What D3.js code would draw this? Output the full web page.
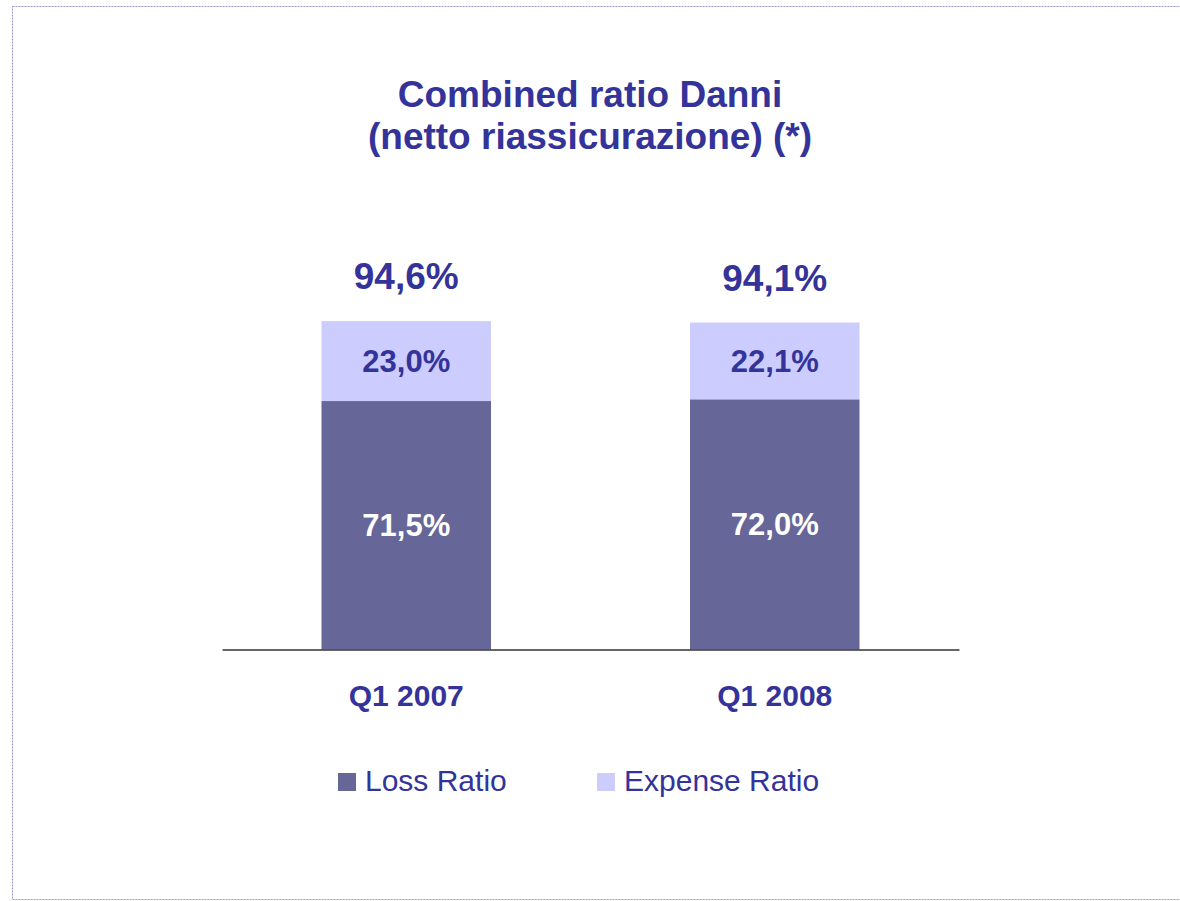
<!DOCTYPE html>
<html>
<head>
<meta charset="utf-8">
<script src="https://cdn.jsdelivr.net/npm/d3@7"></script>
<style>
  html, body { margin: 0; padding: 0; background: #fff; }
  svg text { font-family: "Liberation Sans", Arial, sans-serif; }
</style>
</head>
<body>
<svg id="chart"></svg>
<script>
// chart data
var categories = ["Q1 2007", "Q1 2008"];
var lossRatio = [71.5, 72.0];
var expenseRatio = [23.0, 22.1];
var totalLabels = ["94,6%", "94,1%"];
var lossLabels = ["71,5%", "72,0%"];
var expenseLabels = ["23,0%", "22,1%"];
var seriesNames = ["Loss Ratio", "Expense Ratio"];

var W = 1180, H = 901;
var textColor = "#333399";
var colors = ["#666699", "#CCCCFF"];

var svg = d3.select("#chart")
    .attr("width", W)
    .attr("height", H);

// dashed page frame
svg.append("rect")
    .attr("x", 12.5)
    .attr("y", 6.5)
    .attr("width", 1200)
    .attr("height", 893)
    .attr("fill", "none")
    .attr("stroke", "#9999cc")
    .attr("stroke-width", 1)
    .attr("stroke-dasharray", "2,1");

//title
var title = svg.append("text")
    .attr("text-anchor", "middle")
    .attr("fill", textColor)
    .attr("font-weight", "bold")
    .attr("font-size", "37px");
title.append("tspan").attr("x", 590).attr("y", 107).text("Combined ratio Danni");
title.append("tspan").attr("x", 590).attr("y", 149).text("(netto riassicurazione) (*)");

//scales
var x = d3.scaleBand()
    .domain(categories)
    .range([222, 959])
    .paddingInner(0.54)
    .paddingOuter(0.27);

var y = d3.scaleLinear()
    .domain([0, 100])
    .range([649.5, 302]);

var rows = categories.map(function (c, i) {
    return { cat: c, loss: lossRatio[i], expense: expenseRatio[i] };
});
var stack = d3.stack().keys(["loss", "expense"])(rows);

var layers = svg.append("g")
    .selectAll("g")
    .data(stack)
    .enter().append("g")
    .attr("fill", function (d, i) { return colors[i]; });

layers.selectAll("rect")
    .data(function (d) { return d; })
    .enter().append("rect")
    .attr("x", function (d) { return x(d.data.cat); })
    .attr("y", function (d) { return y(d[1]); })
    .attr("width", x.bandwidth())
    .attr("height", function (d) { return y(d[0]) - y(d[1]); });

// segment labels
var segLabels = [lossLabels, expenseLabels];
var segColors = ["#ffffff", textColor];
stack.forEach(function (layer, k) {
    svg.append("g")
        .selectAll("text")
        .data(layer)
        .enter().append("text")
        .attr("x", function (d) { return x(d.data.cat) + x.bandwidth() / 2; })
        .attr("y", function (d) { return (y(d[0]) + y(d[1])) / 2 + 11; })
        .attr("text-anchor", "middle")
        .attr("font-weight", "bold")
        .attr("font-size", "31px")
        .attr("fill", segColors[k])
        .text(function (d, i) { return segLabels[k][i]; });
});

// totals over the bars
svg.append("g")
    .selectAll("text")
    .data(rows)
    .enter().append("text")
    .attr("x", function (d) { return x(d.cat) + x.bandwidth() / 2; })
    .attr("y", function (d) { return y(d.loss + d.expense) - 32; })
    .attr("text-anchor", "middle")
    .attr("font-weight", "bold")
    .attr("font-size", "37px")
    .attr("fill", textColor)
    .text(function (d, i) { return totalLabels[i]; });

// x axis
var axis = svg.append("g")
    .attr("transform", "translate(0," + y(0) + ")")
    .call(d3.axisBottom(x).tickSize(0).tickPadding(0));
axis.select(".domain")
    .attr("stroke", "#333333")
    .attr("stroke-width", 1.5);
axis.selectAll(".tick text")
    .attr("dy", 0)
    .attr("y", 56.5)
    .attr("font-family", "Liberation Sans, Arial, sans-serif")
    .attr("font-size", "30px")
    .attr("font-weight", "bold")
    .attr("fill", textColor);

// legend
var legendX = [338, 597];
var legend = svg.append("g")
    .selectAll("g")
    .data(seriesNames)
    .enter().append("g")
    .attr("transform", function (d, i) { return "translate(" + legendX[i] + ",773)"; });
legend.append("rect")
    .attr("width", 18)
    .attr("height", 18)
    .attr("fill", function (d, i) { return colors[i]; });
legend.append("text")
    .attr("x", 27)
    .attr("y", 18)
    .attr("font-size", "30px")
    .attr("fill", textColor)
    .text(function (d) { return d; });
</script>
</body>
</html>
